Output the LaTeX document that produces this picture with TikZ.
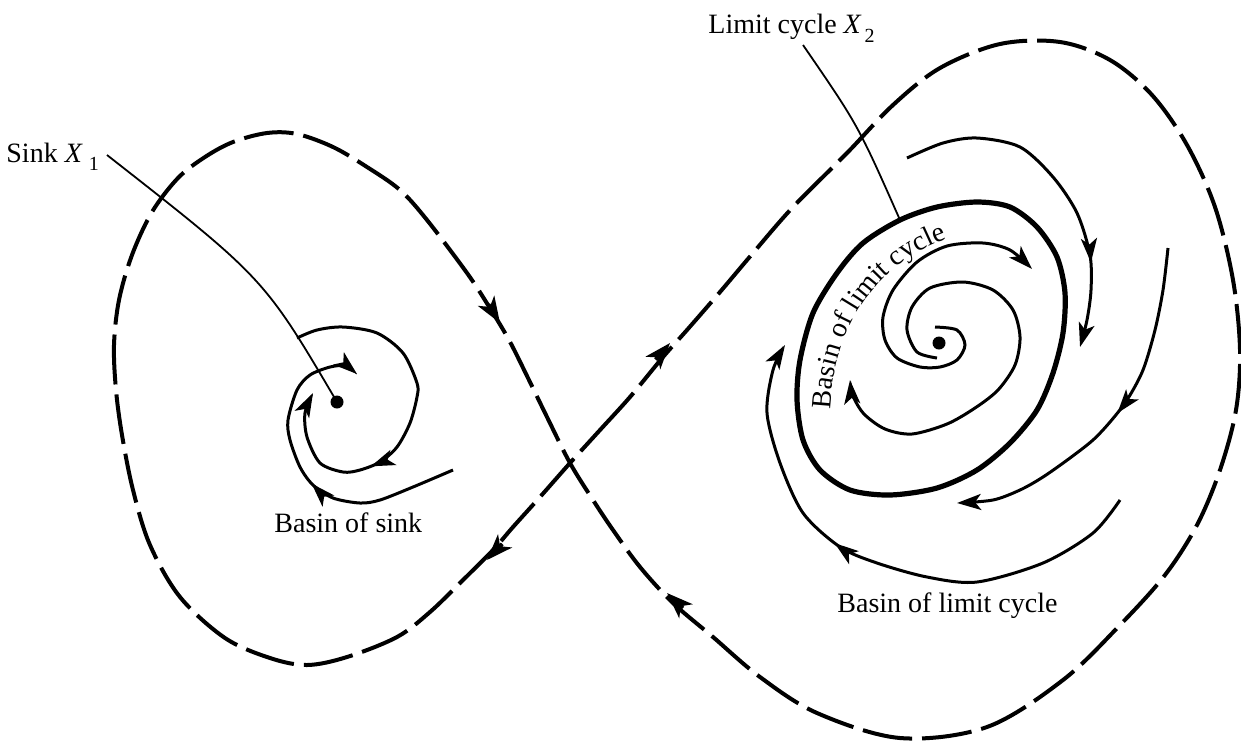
\documentclass[tikz,border=0pt]{standalone}
\usepackage{fontspec}
\setmainfont{Liberation Serif}
\usetikzlibrary{arrows.meta,decorations.markings,decorations.text,calc}
\tikzset{
 flowline/.style={line width=1.5pt},
 cycleline/.style={line width=2.6pt},
 sepx/.style={line width=2pt, dash pattern=on 25pt off 5pt},
 leaderline/.style={line width=0.9pt},
 endtip/.style={-{Stealth[length=12pt,width=8pt,inset=3pt]}},
 bigtip/.style={line width=2pt,-{Stealth[length=13pt,width=9.5pt,inset=3.5pt]}},
 fixpt/.style={circle, fill, inner sep=0pt, minimum size=6.5pt},
 midarrow/.style={postaction={decorate, decoration={markings, mark=at position #1 with {\arrow{Stealth[length=12pt,width=8pt,inset=3pt]}}}}},
 lbl/.style={font=\fontsize{14}{16}\selectfont, inner sep=0pt},
}
\begin{document}
\begin{tikzpicture}[x=0.5pt,y=-0.5pt]
\useasboundingbox (0,0) rectangle (1241,741);

% separatrix figure eight
\draw[sepx] plot[smooth cycle, tension=0.55] coordinates {
 (570,463) (600,430) (630,397) (663,357) (687,330) (720,292) (753,253) (793,207) (847,153) (893,105) (940,68) (1000,44) (1060,42) (1110,60) (1152,95) (1187,145) (1215,207) (1233,280) (1240,350) (1236,410) (1220,470) (1197,525) (1165,575) (1120,625) (1063,680) (987,727) (900,738) (817,713) (760,677) (713,637) (673,603) (640,567) (613,530) (593,500)
 (570,463) (547,417) (528,378) (509,340) (488,305) (467,273) (427,220) (400,190) (367,167) (333,147) (297,134) (267,133) (233,142) (205,157) (178,178) (152,212) (132,255) (119,300) (114,345) (116,390) (122,435) (133,490) (150,545) (180,597) (225,638) (270,658) (307,665) (347,657) (397,637) (430,612) (463,580) (493,550) (513,527) (540,497)};
\coordinate (s1a) at (488.3,304.3); \coordinate (s1b) at (500,323);
\coordinate (s2a) at (655.7,359.7); \coordinate (s2b) at (670,343);
\coordinate (s3a) at (502.2,543.9); \coordinate (s3b) at (487,560);
\coordinate (s4a) at (682.8,608.2); \coordinate (s4b) at (667,593);
\draw[bigtip] (s1a) -- (s1b);
\draw[bigtip] (s2a) -- (s2b);
\draw[bigtip] (s3a) -- (s3b);
\draw[bigtip] (s4a) -- (s4b);

% fixed points
\node[fixpt] (sink) at (337,402) {};
\node[fixpt] (src) at (939,343) {};

% sink spirals
\draw[flowline, endtip, midarrow=0.66] plot[smooth] coordinates {(297,338) (317,330) (343,327) (377,333) (403,353) (417,383) (417,397) (410,423) (397,447) (380,462) (360,470) (343,472) (320,463) (307,437) (305,413) (313,393)};
\draw[flowline, endtip, midarrow=0.47] plot[smooth] coordinates {(453,470) (413,487) (380,500) (360,503) (333,498) (313,485) (300,467) (290,440) (288,420) (297,390) (310,375) (330,367) (345,366) (357,374)};

% limit cycle
\draw[cycleline] plot[smooth cycle] coordinates {(900,220) (937,207) (977,202) (1010,207) (1037,227) (1057,257) (1065,293) (1063,333) (1053,373) (1037,410) (1010,443) (977,470) (937,488) (890,495) (850,490) (820,470) (803,440) (797,400) (800,360) (813,313) (837,273) (863,243)};

% inner spirals
\draw[flowline, endtip] plot[smooth] coordinates {(935,327) (957,330) (965,345) (957,360) (940,367) (920,367) (897,358) (885,340) (883,317) (893,290) (917,262) (947,246) (983,243) (1010,250) (1032,269)};
\draw[flowline, endtip] plot[smooth] coordinates {(937,358) (917,352) (907,330) (912,307) (930,288) (963,282) (993,290) (1013,310) (1020,337) (1015,365) (998,390) (975,408) (947,424) (912,434) (885,429) (864,414) (853,396) (850,380)};

% outer flows
\draw[flowline, endtip, midarrow=0.75] plot[smooth] coordinates {(907,158) (943,143) (977,138) (1020,147) (1053,177) (1077,213) (1090,255) (1091,290) (1087,320) (1080,347)};
\draw[flowline, endtip, midarrow=0.48] plot[smooth] coordinates {(1168,248) (1163,290) (1155,330) (1143,370) (1127,400) (1110,422) (1093,440) (1070,458) (1043,477) (1020,490) (993,500) (957,503)};
\draw[flowline, endtip, midarrow=0.59] plot[smooth] coordinates {(1120,500) (1093,533) (1043,563) (977,582) (927,577) (877,563) (840,547) (803,513) (780,463) (767,413) (773,370) (785,345)};

% curved label
\coordinate (ta) at (830,428);
\coordinate (tb) at (965,233);
\path[decorate, decoration={text along path, text align=center, text={|\fontsize{14}{16}\selectfont|Basin of limit cycle}}] (ta) .. controls (828,330) and (876,256) .. (tb);

% labels
\node[lbl, anchor=base west] (sinklab) at (6,162) {Sink \textit{X}\kern3pt\raisebox{-4pt}{\fontsize{10}{12}\selectfont 1}};
\node[lbl, anchor=base west] (lclab) at (708,33) {Limit cycle \textit{X}\kern1.5pt\raisebox{-4.5pt}{\fontsize{10}{12}\selectfont 2}};
\node[lbl, anchor=base west] (bsink) at (274,532) {Basin of sink};
\node[lbl, anchor=base west] (blc) at (837,612) {Basin of limit cycle};

% leaders
\coordinate (sinkL) at (107,155);
\draw[leaderline] (sinkL) .. controls (264,278) .. (sink.center);
\coordinate (lcL) at (803,45);
\coordinate (lcP) at (900,220);
\draw[leaderline] (lcL) .. controls (858,125) .. (lcP);
\end{tikzpicture}
\end{document}
